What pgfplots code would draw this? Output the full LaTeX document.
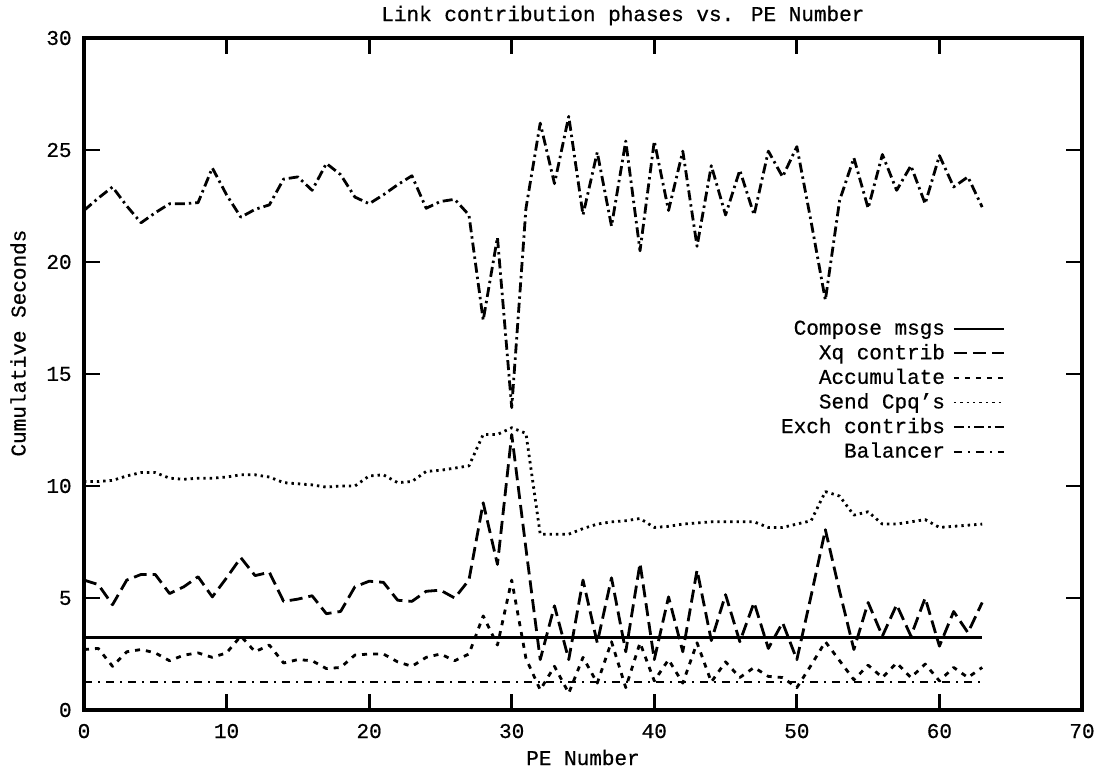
\documentclass[border=0pt]{standalone}
\usepackage{fontspec}
\setmainfont{Liberation Mono}[FakeBold=0.6]
\usepackage{pgfplots}
\pgfplotsset{compat=1.18}
\begin{document}
\fontsize{10.5pt}{12pt}\selectfont
\begin{tikzpicture}
\begin{axis}[
  scale only axis,
  width=499pt, height=336pt,
  xmin=0, xmax=70, ymin=0, ymax=30,
  xtick={0,10,...,70}, ytick={0,5,...,30},
  tick align=inside, major tick length=8pt,
  tick style={line width=1.4pt, black},
  axis line style={line width=1.6pt},
  /pgf/number format/assume math mode=true,
  title={Link contribution phases vs. PE Number},
  every axis title/.style={at={(axis description cs:0.540,1)}, anchor=base, yshift=8.5pt},
  xlabel={PE Number}, ylabel={Cumulative Seconds},
  every axis x label/.style={at={(axis description cs:0.5,0)}, anchor=base, yshift=-27.5pt},
  every axis y label/.style={at={(axis description cs:-0.0661,0.546)}, rotate=90, anchor=center},
  xticklabel style={anchor=base, inner sep=0pt, yshift=-14pt},
  yticklabel style={anchor=east, inner sep=0pt, xshift=-6pt},
  legend plot pos=right,
  legend cell align=right,
  legend style={draw=none, fill=none, at={(axis description cs:0.923,0.583)}, anchor=north east,
    inner sep=0pt, row sep=2.3pt, column sep=4pt,
    nodes={inner sep=0pt, text height=8pt, text depth=2pt}},
  legend image code/.code={\draw[#1, line width=0.9pt] (0pt,0pt) -- (25pt,0pt);},
  every axis plot/.append style={line width=1.4pt, black, mark=none, line join=round},
]
% Compose msgs
\addplot[solid] coordinates {(0,3.25) (63,3.25)};
\addlegendentry{Compose msgs}
% Xq contrib
\addplot[dash pattern=on 6.5pt off 3pt] coordinates {
(0,5.8)(1,5.6)(2,4.7)(3,5.8)(4,6.05)(5,6.05)(6,5.2)(7,5.5)(8,5.95)(9,5.05)
(10,5.9)(11,6.8)(12,6.0)(13,6.15)(14,4.85)(15,4.95)(16,5.1)(17,4.3)(18,4.4)(19,5.5)
(20,5.75)(21,5.7)(22,4.9)(23,4.85)(24,5.3)(25,5.35)(26,5.0)(27,5.8)(28,9.25)(29,6.5)
(30,12.3)(31,7.2)(32,2.25)(33,4.65)(34,2.25)(35,5.8)(36,3.0)(37,5.9)(38,2.6)(39,6.55)
(40,2.25)(41,5.05)(42,2.6)(43,6.25)(44,3.1)(45,5.15)(46,3.05)(47,4.8)(48,2.75)(49,3.9)
(50,2.25)(51,5.1)(52,8.05)(53,5.3)(54,2.7)(55,4.8)(56,3.3)(57,4.7)(58,3.3)(59,5.0)
(60,2.85)(61,4.4)(62,3.45)(63,4.8)};
\addlegendentry{Xq contrib}
% Accumulate
\addplot[dash pattern=on 2.5pt off 3pt] coordinates {
(0,2.7)(1,2.75)(2,1.95)(3,2.6)(4,2.7)(5,2.55)(6,2.2)(7,2.45)(8,2.55)(9,2.35)
(10,2.55)(11,3.3)(12,2.6)(13,2.9)(14,2.1)(15,2.25)(16,2.2)(17,1.85)(18,1.9)(19,2.45)
(20,2.5)(21,2.5)(22,2.15)(23,1.95)(24,2.35)(25,2.5)(26,2.2)(27,2.5)(28,4.2)(29,2.9)
(30,5.8)(31,2.3)(32,0.9)(33,1.95)(34,0.75)(35,2.35)(36,1.2)(37,3.05)(38,1.0)(39,3.0)
(40,1.3)(41,2.25)(42,1.2)(43,3.0)(44,1.25)(45,2.15)(46,1.45)(47,1.9)(48,1.5)(49,1.45)
(50,1.0)(51,2.0)(52,3.05)(53,2.2)(54,1.35)(55,2.0)(56,1.45)(57,2.1)(58,1.45)(59,2.05)
(60,1.3)(61,1.9)(62,1.45)(63,1.9)};
\addlegendentry{Accumulate}
% Send Cpq's
\addplot[dash pattern=on 1.2pt off 2pt] coordinates {
(0,10.2)(1,10.2)(2,10.25)(3,10.45)(4,10.6)(5,10.6)(6,10.35)(7,10.3)(8,10.35)(9,10.35)
(10,10.4)(11,10.5)(12,10.5)(13,10.4)(14,10.15)(15,10.1)(16,10.05)(17,9.95)(18,10.0)(19,10.0)
(20,10.45)(21,10.5)(22,10.15)(23,10.2)(24,10.65)(25,10.7)(26,10.8)(27,10.9)(28,12.3)(29,12.3)
(30,12.6)(31,12.35)(32,7.85)(33,7.85)(34,7.85)(35,8.1)(36,8.3)(37,8.4)(38,8.45)(39,8.55)
(40,8.15)(41,8.2)(42,8.3)(43,8.35)(44,8.4)(45,8.4)(46,8.4)(47,8.4)(48,8.15)(49,8.15)
(50,8.3)(51,8.45)(52,9.75)(53,9.55)(54,8.7)(55,8.85)(56,8.3)(57,8.3)(58,8.4)(59,8.5)
(60,8.15)(61,8.2)(62,8.25)(63,8.3)};
\addlegendentry{Send Cpq's}
% Exch contribs
\addplot[dash pattern=on 5pt off 2pt on 1.2pt off 2pt] coordinates {
(0,22.3)(1,22.85)(2,23.35)(3,22.5)(4,21.75)(5,22.2)(6,22.6)(7,22.6)(8,22.65)(9,24.2)
(10,23.0)(11,22.0)(12,22.35)(13,22.55)(14,23.7)(15,23.8)(16,23.2)(17,24.4)(18,23.9)(19,22.9)
(20,22.6)(21,23.0)(22,23.45)(23,23.85)(24,22.4)(25,22.7)(26,22.8)(27,22.1)(28,17.4)(29,21.1)
(30,13.5)(31,22.4)(32,26.2)(33,23.5)(34,26.5)(35,22.1)(36,24.9)(37,21.6)(38,25.4)(39,20.5)
(40,25.4)(41,22.3)(42,24.95)(43,20.7)(44,24.3)(45,22.1)(46,24.1)(47,22.1)(48,24.95)(49,23.8)
(50,25.15)(51,21.8)(52,18.3)(53,22.75)(54,24.65)(55,22.4)(56,24.8)(57,23.2)(58,24.3)(59,22.6)
(60,24.75)(61,23.35)(62,23.8)(63,22.45)};
\addlegendentry{Exch contribs}
% Balancer
\addplot[dash pattern=on 4pt off 3pt on 1pt off 3pt] coordinates {(0,1.25) (63,1.25)};
\addlegendentry{Balancer}
\end{axis}
\pgfresetboundingbox
\path[use as bounding box] (-42pt,-31.5pt) rectangle (509pt,355pt);
\end{tikzpicture}
\end{document}
